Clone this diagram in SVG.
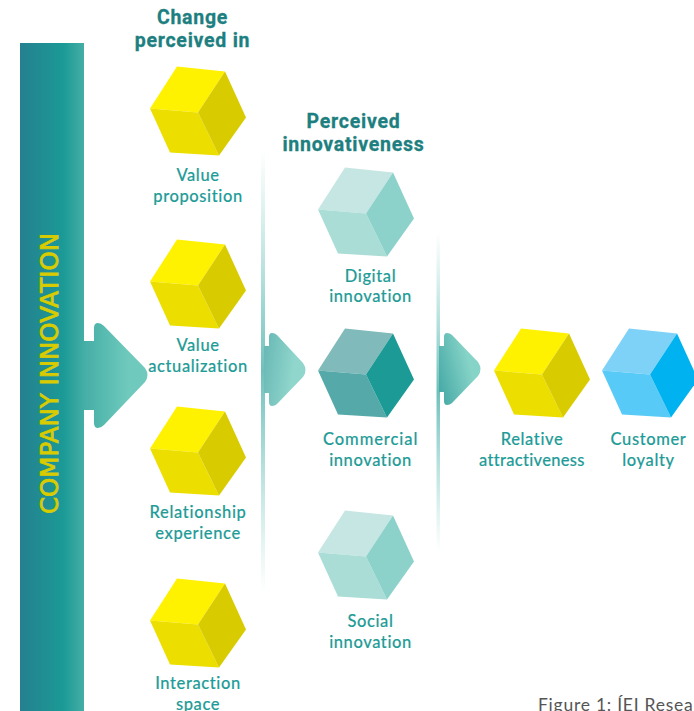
<svg xmlns="http://www.w3.org/2000/svg" width="694" height="711" viewBox="0 0 694 711">
<style>
.h{font:700 19.5px "Roboto","DejaVu Sans",sans-serif;fill:#1d7f80;text-anchor:middle;letter-spacing:.75px;stroke:#1d7f80;stroke-width:.3px}
.l{font:500 16.5px "Lato","Open Sans",sans-serif;fill:#1f9c98;text-anchor:middle;letter-spacing:.6px;stroke:#1f9c98;stroke-width:.15px}
.y{--t:#fff200;--a:#ecdf00;--b:#d8cb00}
.p{--t:#c5e6e3;--a:#a9ddd6;--b:#8cd2cb}
.g{--t:#80baba;--a:#55a9a9;--b:#1b9a96}
.c{--t:#7ed2f7;--a:#58caf8;--b:#00b3f0}
</style>
<defs>
<g id="cube">
<path d="M0 0L27-42 75-37 48 4Z" style="fill:var(--t)"/>
<path d="M0 0L48 4 69 47 20 44Z" style="fill:var(--a)"/>
<path d="M48 4L75-37 96 9 69 47Z" style="fill:var(--b)"/>
</g>
<linearGradient id="bar"><stop offset="0" stop-color="#25808f"/><stop offset=".68" stop-color="#1b9a96"/><stop offset="1" stop-color="#45aea6"/></linearGradient>
<linearGradient id="a1"><stop offset="0" stop-color="#45aea6"/><stop offset=".7" stop-color="#6fcabd"/></linearGradient>
<linearGradient id="a2" x1="0" y1=".4" x2="1" y2=".65"><stop offset="0" stop-color="#6bbab7"/><stop offset=".7" stop-color="#90d6cc"/></linearGradient>
<linearGradient id="a3" x1="0" y1=".8" x2="1" y2=".35"><stop offset="0" stop-color="#47aaa6"/><stop offset=".75" stop-color="#86d3c7"/></linearGradient>
<linearGradient id="v" x1="0" y1="0" x2="0" y2="1"><stop offset="0" stop-color="#8cd2cb" stop-opacity="0"/><stop offset=".5" stop-color="#6fc0bc"/><stop offset="1" stop-color="#8cd2cb" stop-opacity="0"/></linearGradient>
</defs>
<g id="company-innovation">
<rect x="20" y="43" width="64" height="668" fill="url(#bar)"/>
<text transform="translate(58 514) rotate(-90)" font-family="'DejaVu Sans',sans-serif" font-size="24" fill="#d8cb00" stroke="#d8cb00" stroke-width=".8" textLength="281" lengthAdjust="spacingAndGlyphs">COMPANY INNOVATION</text>
</g>
<g id="connectors">
<rect x="261" y="150" width="4" height="442" fill="url(#v)"/>
<rect x="436.500" y="232" width="3.500" height="320" fill="url(#v)"/>
<path d="M84 341H94V328Q94 323 98 323Q101 323 104 326L145 368Q150 375 145 382L104 425Q101 428 98 428Q94 428 94 423V410H84Z" fill="url(#a1)"/>
<path d="M264 346H269V337Q269 333 272 333Q275 333 277 335L303 363Q308 370 303 377L277 404Q275 406 272 406Q269 406 269 402V393H264Z" fill="url(#a2)"/>
<path d="M439 346H444V337Q444 333 447 333Q450 333 452 335L478 362Q483 369 478 376L452 403Q450 405 447 405Q444 405 444 401V392H439Z" fill="url(#a3)"/>
</g>
<text class="h" x="192.500" y="24">Change</text><text class="h" x="192.500" y="47">perceived in</text>
<text class="h" x="353.500" y="128">Perceived</text><text class="h" x="353.500" y="151">innovativeness</text>
<g id="value-proposition"><use href="#cube" class="y" x="150" y="108.500"/><text class="l" x="198" y="181">Value</text><text class="l" x="198" y="202">proposition</text></g>
<g id="value-actualization"><use href="#cube" class="y" x="150" y="281.500"/><text class="l" x="198" y="351">Value</text><text class="l" x="198" y="372">actualization</text></g>
<g id="relationship-experience"><use href="#cube" class="y" x="150" y="448.500"/><text class="l" x="198" y="518" textLength="97">Relationship</text><text class="l" x="198" y="539">experience</text></g>
<g id="interaction-space"><use href="#cube" class="y" x="150" y="620.500"/><text class="l" x="198" y="689">Interaction</text><text class="l" x="198" y="710">space</text></g>
<g id="digital-innovation"><use href="#cube" class="p" x="318" y="209.500"/><text class="l" x="370.500" y="282">Digital</text><text class="l" x="370.500" y="302">innovation</text></g>
<g id="commercial-innovation"><use href="#cube" class="g" x="318" y="370.500"/><text class="l" x="370.500" y="445" textLength="95">Commercial</text><text class="l" x="370.500" y="466">innovation</text></g>
<g id="social-innovation"><use href="#cube" class="p" x="318" y="552.500"/><text class="l" x="370.500" y="627">Social</text><text class="l" x="370.500" y="648">innovation</text></g>
<g id="relative-attractiveness"><use href="#cube" class="y" x="494" y="370.500"/><text class="l" x="532" y="445">Relative</text><text class="l" x="532" y="466" textLength="106">attractiveness</text></g>
<g id="customer-loyalty"><use href="#cube" class="c" x="602" y="370.500"/><text class="l" x="648.500" y="445">Customer</text><text class="l" x="648.500" y="466">loyalty</text></g>
<text x="538" y="711" font-family="'Lato','Open Sans',sans-serif" font-size="17.500" fill="#555" letter-spacing=".75">Figure 1: ÍEI Resea</text>
</svg>
